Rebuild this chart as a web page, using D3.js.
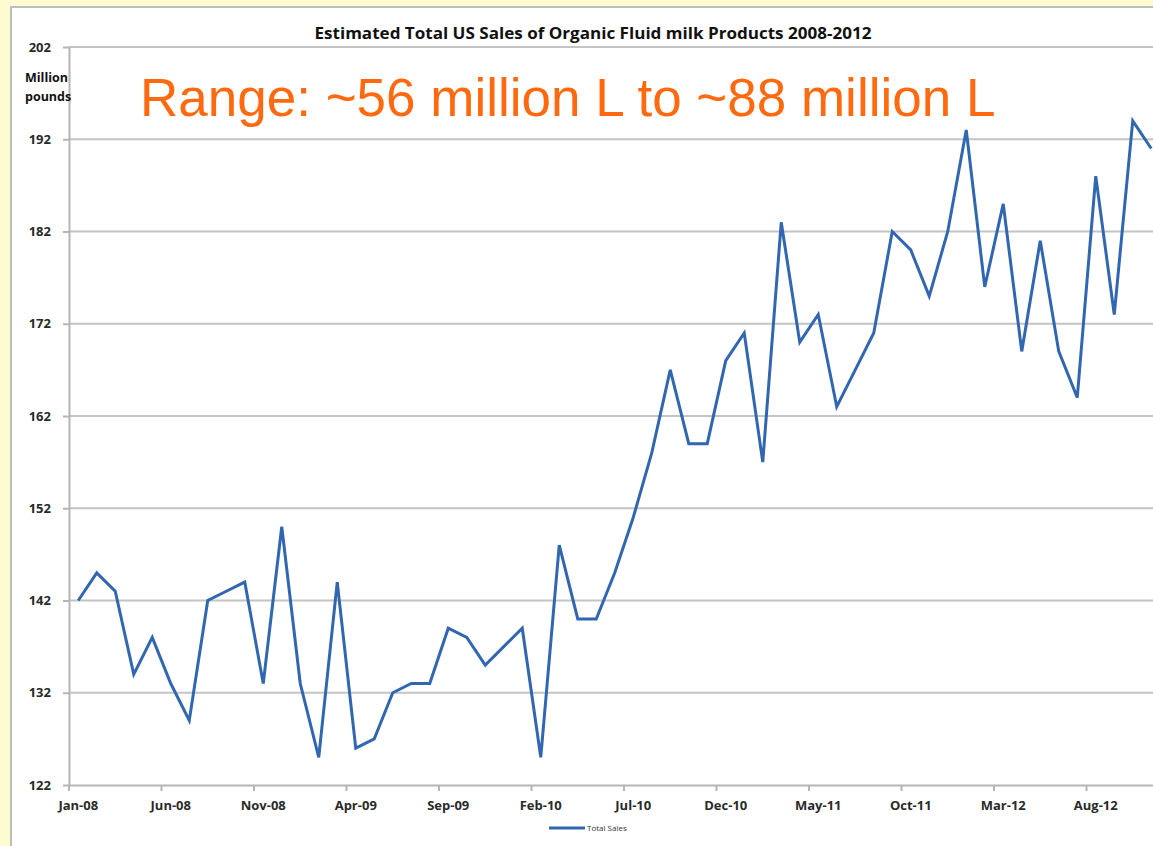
<!DOCTYPE html>
<html>
<head>
<meta charset="utf-8">
<script src="https://cdnjs.cloudflare.com/ajax/libs/d3/7.8.5/d3.min.js"></script>
<style>
  body { margin: 0; background: #fdfbcf; overflow: hidden; }
</style>
</head>
<body>
<div id="my_dataviz"></div>
<script>

// data (million pounds per month)
var months = ["Jan-08","Feb-08","Mar-08","Apr-08","May-08","Jun-08","Jul-08","Aug-08","Sep-08","Oct-08","Nov-08","Dec-08",
              "Jan-09","Feb-09","Mar-09","Apr-09","May-09","Jun-09","Jul-09","Aug-09","Sep-09","Oct-09","Nov-09","Dec-09",
              "Jan-10","Feb-10","Mar-10","Apr-10","May-10","Jun-10","Jul-10","Aug-10","Sep-10","Oct-10","Nov-10","Dec-10",
              "Jan-11","Feb-11","Mar-11","Apr-11","May-11","Jun-11","Jul-11","Aug-11","Sep-11","Oct-11","Nov-11","Dec-11",
              "Jan-12","Feb-12","Mar-12","Apr-12","May-12","Jun-12","Jul-12","Aug-12","Sep-12","Oct-12","Nov-12"]

var sales = [142,145,143,134,138,133,129,142,143,144,133,150,
             133,125,144,126,127,132,133,133,139,138,135,137,
             139,125,148,140,140,145,151,158,167,159,159,168,
             171,157,183,170,173,163,167,171,182,180,175,182,
             193,176,185,169,181,169,164,188,173,194,191]

var xTickLabels = ["Jan-08","Jun-08","Nov-08","Apr-09","Sep-09","Feb-10","Jul-10","Dec-10","May-11","Oct-11","Mar-12","Aug-12"]
var yTicks = [122,132,142,152,162,172,182,192,202]

var seriesName = "Total Sales"
var title = "Estimated Total US Sales of Organic Fluid milk Products 2008-2012"
var note = "Range: ~56 million L to ~88 million L"

// set the dimensions of the page
var W = 1153, H = 846
var plot = {left: 69, top: 47, bottom: 785, step: 18.5}

var svg = d3.select("#my_dataviz")
  .append("svg")
    .attr("width", W)
    .attr("height", H)

// white chart panel on the yellow slide
svg.append("rect")
    .attr("x", 11)
    .attr("y", 7)
    .attr("width", W)
    .attr("height", H)
    .attr("fill", "white")
    .attr("stroke", "#bdbdbd")
    .attr("stroke-width", 2)

// X scale: one band per month
var x = d3.scaleBand()
  .domain(months)
  .range([plot.left, plot.left + months.length * plot.step])

// Y scale
var y = d3.scaleLinear()
  .domain([122, 202])
  .range([plot.bottom, plot.top])

// horizontal grid lines
svg.append("g")
  .selectAll("line")
  .data(yTicks.slice(1))
  .enter().append("line")
    .attr("x1", plot.left)
    .attr("x2", W)
    .attr("y1", function(d) { return y(d) })
    .attr("y2", function(d) { return y(d) })
    .attr("stroke", "#c4c4c4")
    .attr("stroke-width", 2)

// Y axis
var yAxis = svg.append("g")
  .attr("transform", "translate(" + plot.left + ",0)")
  .call(d3.axisLeft(y).tickValues(yTicks).tickSize(6).tickSizeOuter(0).tickPadding(12))
yAxis.select(".domain").attr("stroke", "#b5b5b5").attr("stroke-width", 2)
yAxis.selectAll(".tick line").attr("stroke", "#b5b5b5").attr("stroke-width", 2)
yAxis.selectAll("text")
  .attr("fill", "#2a2a2a")
  .style("font-family", "Open Sans")
  .style("font-weight", "700")
  .style("font-size", "13px")

// X axis: labels at month centres, tick marks on the band edges
var xAxis = svg.append("g")
  .attr("transform", "translate(0," + plot.bottom + ")")
  .call(d3.axisBottom(x).tickValues(xTickLabels).tickSize(0).tickPadding(16))
xAxis.select(".domain").attr("stroke", "#b5b5b5").attr("stroke-width", 2)
xAxis.selectAll(".tick").append("line")
  .attr("x1", -x.step() / 2)
  .attr("x2", -x.step() / 2)
  .attr("y1", 0)
  .attr("y2", 6)
  .attr("stroke", "#b5b5b5")
  .attr("stroke-width", 2)
xAxis.selectAll("text")
  .attr("fill", "#2a2a2a")
  .style("font-family", "Open Sans")
  .style("font-weight", "700")
  .style("font-size", "13px")

// y axis unit
svg.append("text")
  .attr("x", 25)
  .attr("y", 82)
  .attr("fill", "#111")
  .style("font-family", "Open Sans")
  .style("font-weight", "700")
  .style("font-size", "12.5px")
  .selectAll("tspan")
  .data(["Million", "pounds"])
  .enter().append("tspan")
    .attr("x", 25)
    .attr("dy", function(d, i) { return i == 0 ? 0 : 19 })
    .text(function(d) { return d })

// the line
var line = d3.line()
  .x(function(d, i) { return x(months[i]) + x.bandwidth() / 2 })
  .y(function(d) { return y(d) })

svg.append("path")
  .datum(sales)
  .attr("fill", "none")
  .attr("stroke", "#3167b1")
  .attr("stroke-width", 3)
  .attr("stroke-linejoin", "miter")
  .attr("d", line)

// title
svg.append("text")
  .attr("x", 593)
  .attr("y", 39)
  .attr("text-anchor", "middle")
  .attr("textLength", 557)
  .attr("lengthAdjust", "spacingAndGlyphs")
  .attr("fill", "#111")
  .style("font-family", "Open Sans")
  .style("font-weight", "700")
  .style("font-size", "16px")
  .text(title)

// orange annotation
svg.append("text")
  .attr("x", 140)
  .attr("y", 116)
  .attr("fill", "#ff6a10")
  .style("font-family", "Liberation Sans")
  .style("font-size", "53px")
  .text(note)

// legend
svg.append("line")
  .attr("x1", 549)
  .attr("x2", 585)
  .attr("y1", 828)
  .attr("y2", 828)
  .attr("stroke", "#3167b1")
  .attr("stroke-width", 3)
svg.append("text")
  .attr("x", 587)
  .attr("y", 831)
  .attr("fill", "#333")
  .style("font-family", "Open Sans")
  .style("font-size", "8px")
  .text(seriesName)

</script>
</body>
</html>
